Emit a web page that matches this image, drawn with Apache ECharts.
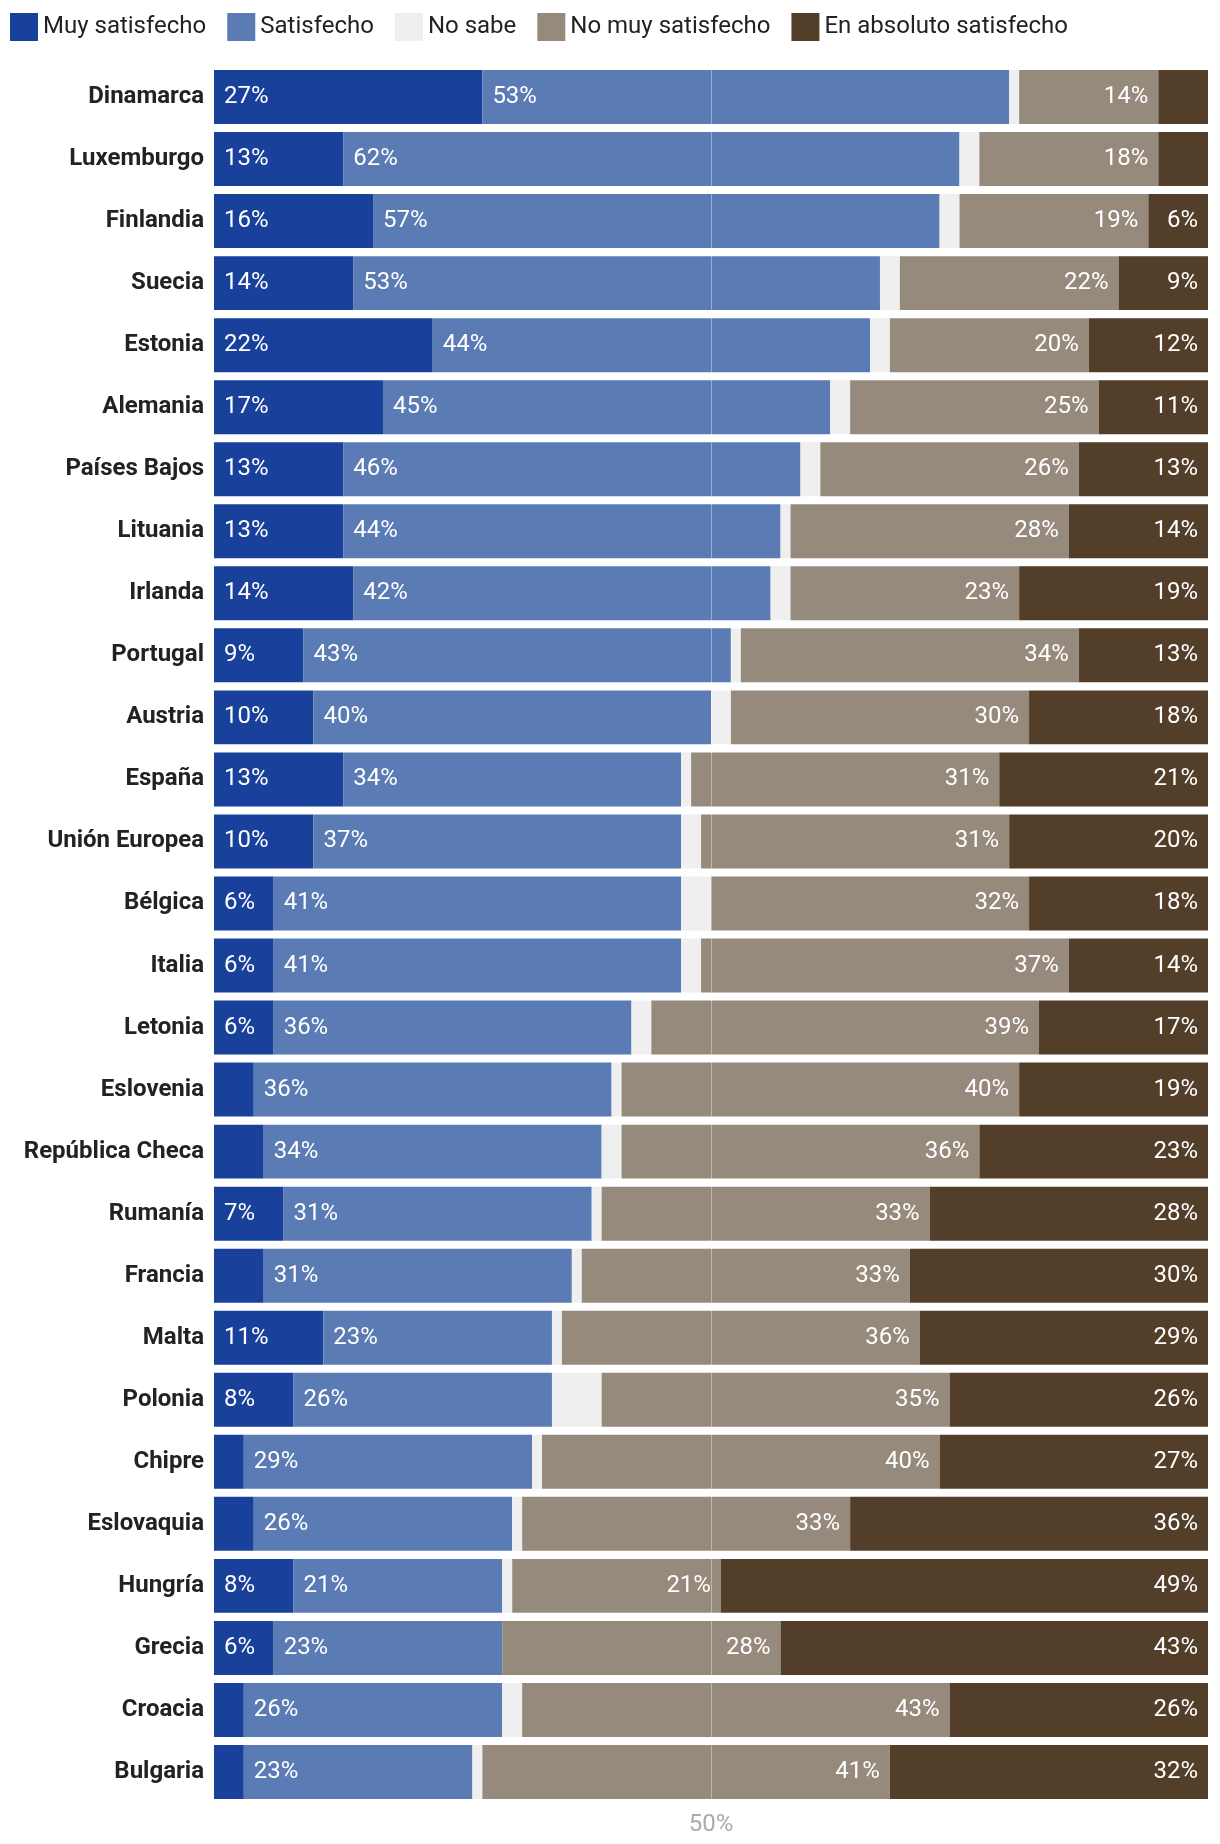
<!DOCTYPE html>
<html>
<head>
<meta charset="utf-8">
<script src="https://cdn.jsdelivr.net/npm/echarts@6/dist/echarts.min.js"></script>
<style>
html,body{margin:0;padding:0;background:#fff;}
#c{width:1220px;height:1844px;}
</style>
</head>
<body>
<div id="c"></div>
<script>
const categories = ["Dinamarca","Luxemburgo","Finlandia","Suecia","Estonia","Alemania","Países Bajos","Lituania","Irlanda","Portugal","Austria","España","Unión Europea","Bélgica","Italia","Letonia","Eslovenia","República Checa","Rumanía","Francia","Malta","Polonia","Chipre","Eslovaquia","Hungría","Grecia","Croacia","Bulgaria"];
const muySatisfecho   = [27,13,16,14,22,17,13,13,14, 9,10,13,10, 6, 6, 6, 4, 5, 7, 5,11, 8, 3, 4, 8, 6, 3, 3];
const satisfecho      = [53,62,57,53,44,45,46,44,42,43,40,34,37,41,41,36,36,34,31,31,23,26,29,26,21,23,26,23];
const noSabe          = [ 1, 2, 2, 2, 2, 2, 2, 1, 2, 1, 2, 1, 2, 3, 2, 2, 1, 2, 1, 1, 1, 5, 1, 1, 1, 0, 2, 1];
const noMuySatisfecho = [14,18,19,22,20,25,26,28,23,34,30,31,31,32,37,39,40,36,33,33,36,35,40,33,21,28,43,41];
const enAbsoluto      = [ 5, 5, 6, 9,12,11,13,14,19,13,18,21,20,18,14,17,19,23,28,30,29,26,27,36,49,43,26,32];
const seriesNames = ["Muy satisfecho","Satisfecho","No sabe","No muy satisfecho","En absoluto satisfecho"];
const colors = ["#19409a","#5b7bb4","#efefef","#968a7c","#533e2a"];
const xTicks = [50];

const FONT = "Roboto";
const chart = echarts.init(document.getElementById('c'), null, {renderer:'canvas'});
const dataSets = [muySatisfecho, satisfecho, noSabe, noMuySatisfecho, enAbsoluto];
const labelPos = ['insideLeft','insideLeft','inside','insideRight','insideRight'];

const series = dataSets.map((d,i)=>{
  const s = {
    name: seriesNames[i],
    type: 'bar',
    stack: 'total',
    data: d,
    barCategoryGap: '13%',
    itemStyle: {color: colors[i]},
    label: {
      show: i !== 2,
      position: labelPos[i],
      distance: 10,
      color: '#fff',
      fontFamily: FONT,
      fontSize: 24,
      formatter: p => p.value >= 6 ? p.value + '%' : ''
    },
    emphasis: {disabled: true},
    animation: false
  };
  if (i === 4) {
    s.markLine = {
      silent: true,
      symbol: ['none','none'],
      label: {show:false},
      lineStyle: {color:'rgba(255,255,255,0.38)', width:1, type:'solid'},
      data: [{xAxis: xTicks[0]}],
      animation: false
    };
  }
  return s;
});

chart.setOption({
  animation: false,
  textStyle: {fontFamily: FONT},
  legend: {
    left: 10, top: 13, padding: 0,
    itemWidth: 28, itemHeight: 28, itemGap: 21,
    icon: 'rect',
    textStyle: {fontFamily: FONT, fontSize: 24, color: '#222'},
    data: seriesNames
  },
  grid: {left: 214, right: 12, top: 66, bottom: 41, containLabel: false},
  xAxis: {
    type: 'value', min: 0, max: 100, interval: 50,
    axisLine: {show:false}, axisTick: {show:false}, splitLine: {show:false},
    axisLabel: {
      fontFamily: FONT, fontSize: 24, color: '#aaaaaa', margin: 10,
      formatter: v => xTicks.includes(v) ? v + '%' : ''
    }
  },
  yAxis: {
    type: 'category', inverse: true, data: categories,
    axisLine: {show:false}, axisTick: {show:false},
    axisLabel: {fontFamily: FONT, fontSize: 24, fontWeight: 'bold', color: '#222', margin: 10}
  },
  series: series
});
</script>
</body>
</html>
